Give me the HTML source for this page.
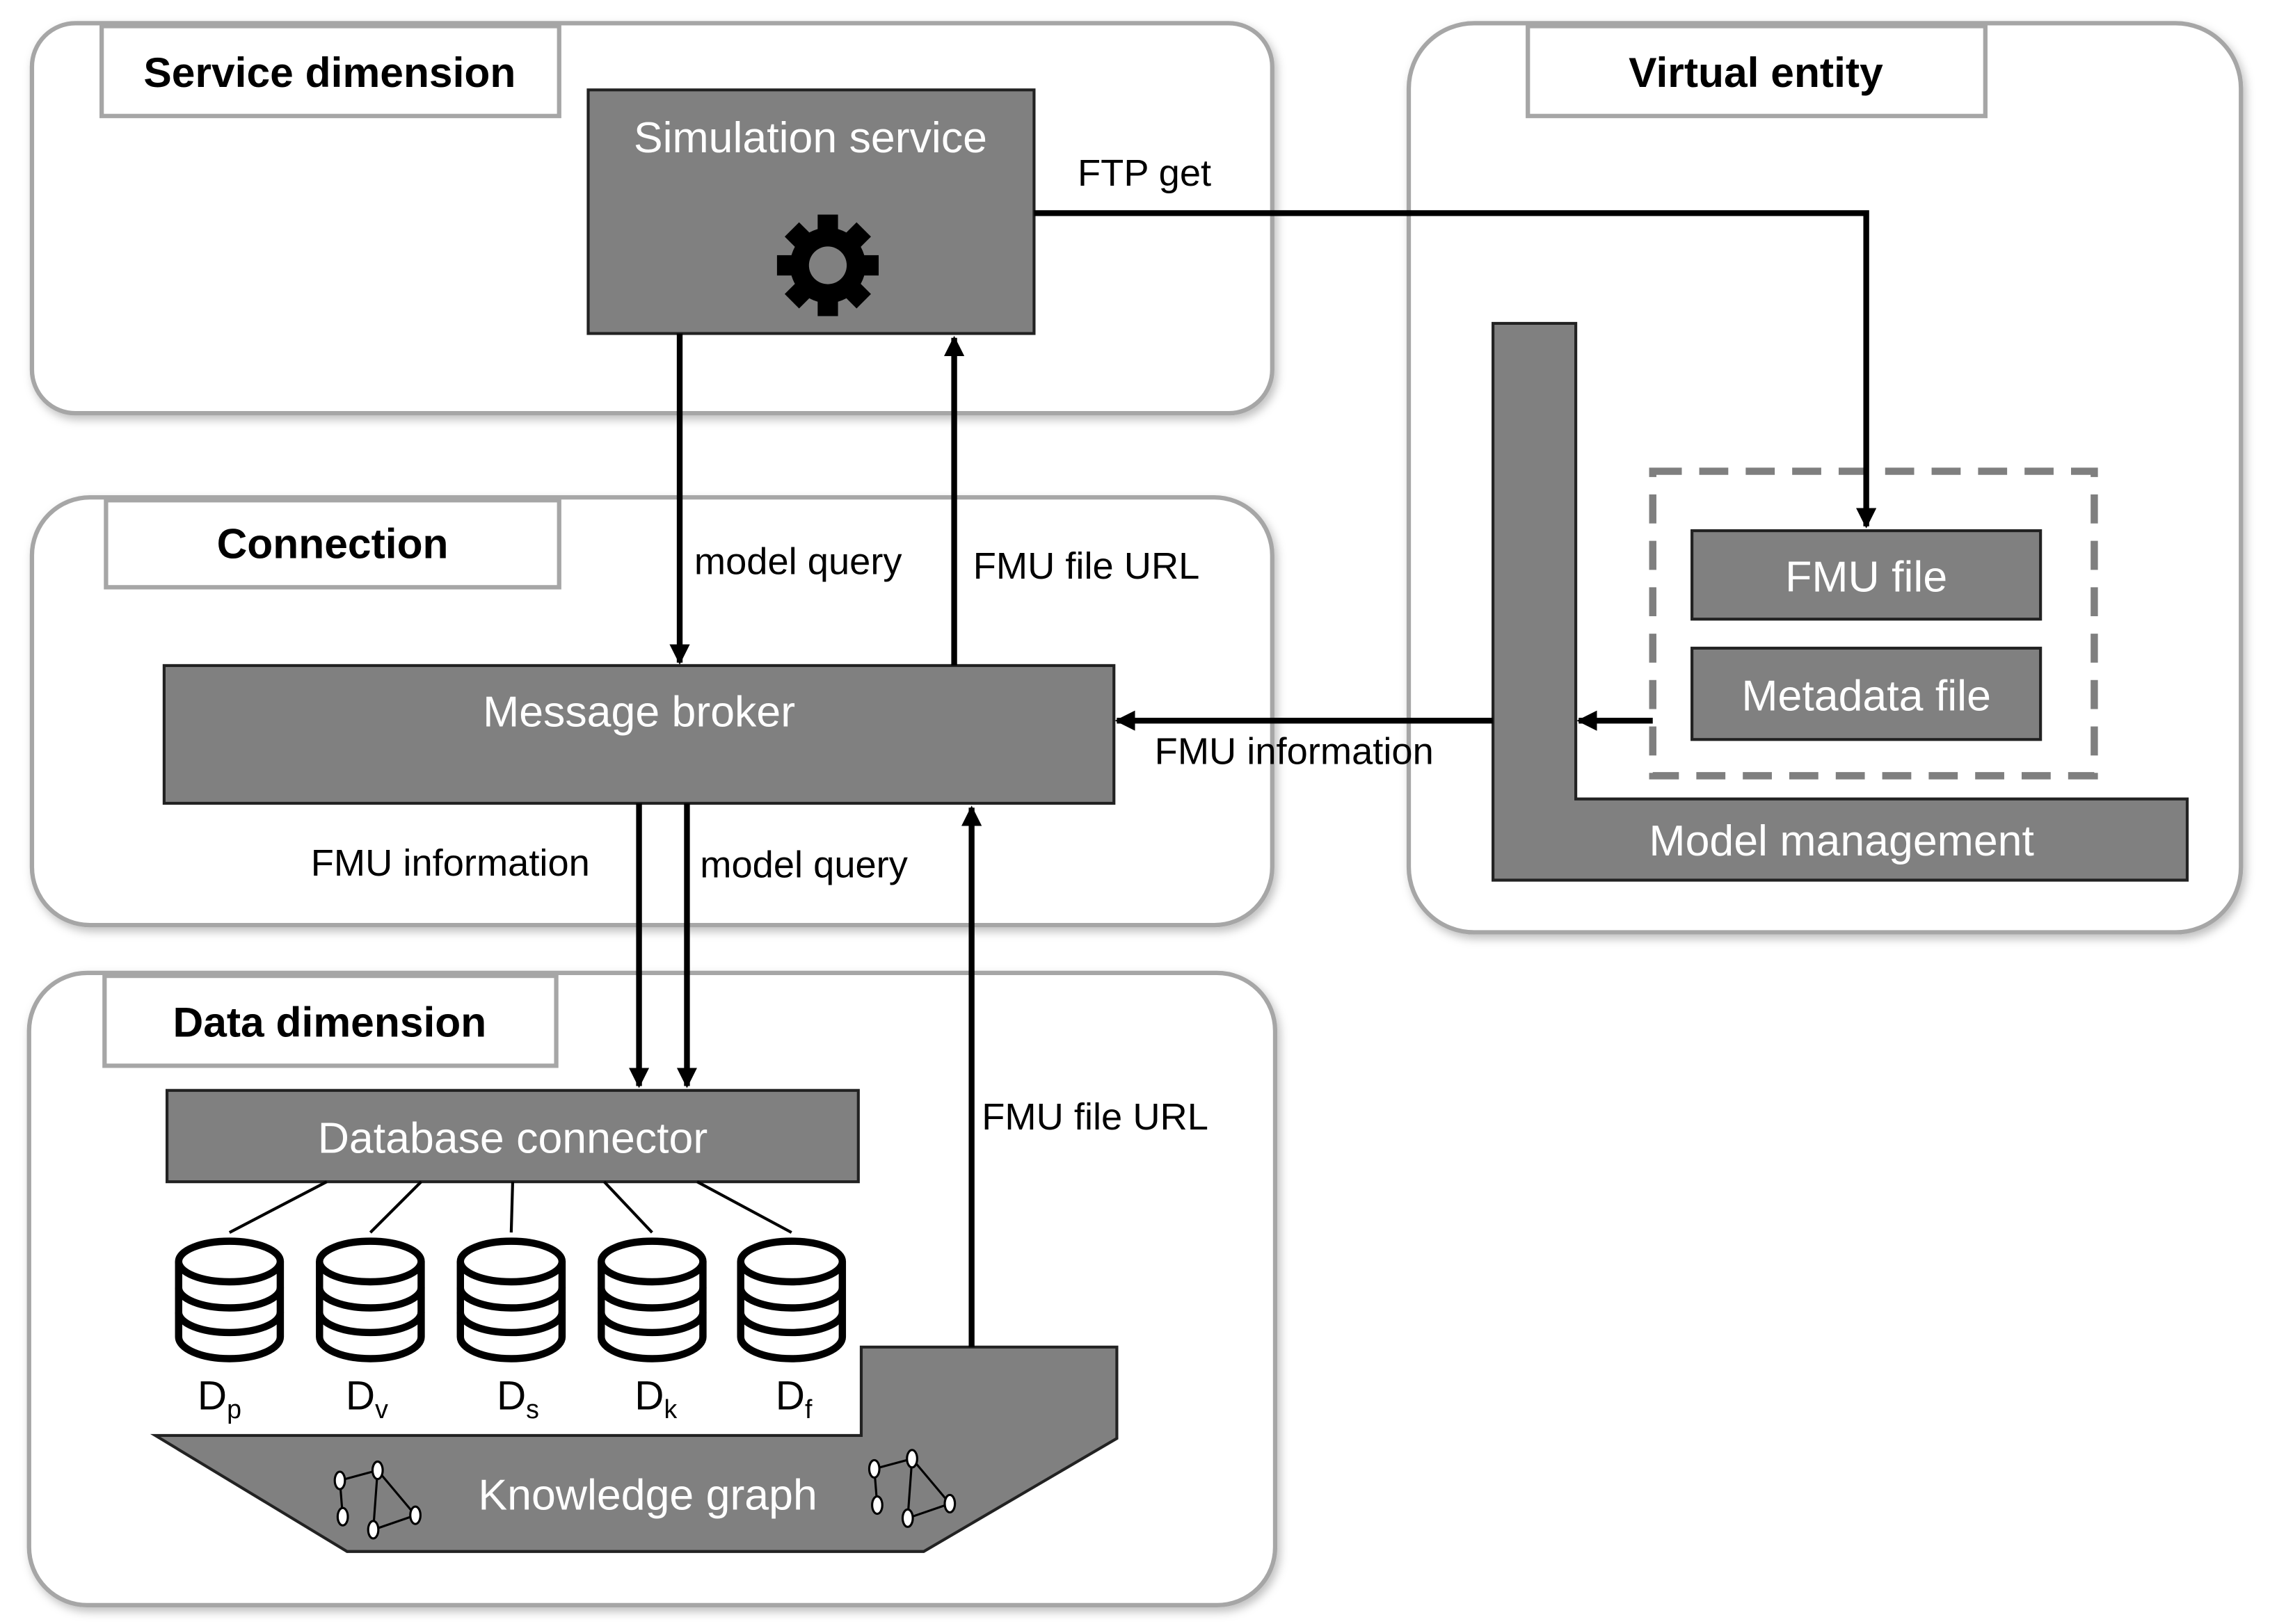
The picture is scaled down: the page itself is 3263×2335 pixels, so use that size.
<!DOCTYPE html>
<html><head><meta charset="utf-8"><style>html,body{margin:0;padding:0;background:#fff}svg{display:block}</style></head>
<body>
<svg width="3263" height="2335" viewBox="0 0 1563 1120" preserveAspectRatio="none" xmlns="http://www.w3.org/2000/svg" font-family="Liberation Sans, sans-serif">
<defs>
<marker id="ah" markerWidth="8" markerHeight="8" refX="7" refY="4" orient="auto" markerUnits="userSpaceOnUse"><path d="M0,0 L8,4 L0,8 z" fill="#000"/></marker>
<marker id="a" viewBox="0 0 10 10" markerWidth="14" markerHeight="14" refX="9" refY="5" orient="auto" markerUnits="userSpaceOnUse"><path d="M0,0 L10,5 L0,10 z" fill="#000"/></marker>
<filter id="sh" x="-5%" y="-5%" width="110%" height="110%"><feDropShadow dx="2" dy="3" stdDeviation="3" flood-color="#000" flood-opacity="0.25"/></filter>
</defs>
<g fill="#fff" stroke="#a6a6a6" stroke-width="3" filter="url(#sh)">
<rect x="22" y="16" width="854" height="269" rx="30"/>
<rect x="970" y="16" width="573" height="627" rx="45"/>
<rect x="22" y="343" width="854" height="295" rx="40"/>
<rect x="20" y="671" width="858" height="436" rx="40"/>
</g>
<g fill="#fff" stroke="#a6a6a6" stroke-width="3">
<rect x="70" y="18" width="315" height="62"/>
<rect x="1052" y="18" width="315" height="62"/>
<rect x="73" y="345" width="312" height="60"/>
<rect x="72" y="673" width="311" height="62"/>
</g>
<g font-weight="bold" font-size="29" text-anchor="middle" fill="#000">
<text x="227" y="60">Service dimension</text>
<text x="1209" y="60">Virtual entity</text>
<text x="229" y="385">Connection</text>
<text x="227" y="715">Data dimension</text>
</g>
<g fill="#808080" stroke="#222" stroke-width="2">
<rect x="405" y="62" width="307" height="168"/>
<rect x="113" y="459" width="654" height="95"/>
<rect x="115" y="752" width="476" height="63"/>
<path d="M1028,223 H1085 V551 H1506 V607 H1028 Z"/>
<rect x="1165" y="366" width="240" height="61"/>
<rect x="1165" y="447" width="240" height="63"/>
<path d="M107,990 H593 V929 H769 V992 L636,1070 H239 Z"/>
</g>
<rect x="1138" y="325" width="304" height="210" fill="none" stroke="#7f7f7f" stroke-width="5" stroke-dasharray="20 12"/>
<g fill="#fff" font-size="30" text-anchor="middle">
<text x="558" y="105">Simulation service</text>
<text x="440" y="501">Message broker</text>
<text x="353" y="795">Database connector</text>
<text x="1268" y="590">Model management</text>
<text x="1285" y="408">FMU file</text>
<text x="1285" y="490">Metadata file</text>
<text x="446" y="1041">Knowledge graph</text>
</g>
<!-- gear -->
<g transform="translate(570,183)">
<g fill="#000">
<circle r="26"/>
<rect x="-7" y="-35" width="14" height="70"/>
<rect x="-7" y="-35" width="14" height="70" transform="rotate(45)"/>
<rect x="-7" y="-35" width="14" height="70" transform="rotate(90)"/>
<rect x="-7" y="-35" width="14" height="70" transform="rotate(135)"/>
</g>
<circle r="13" fill="#808080"/>
</g>
<g stroke="#000" stroke-width="4" fill="none">
<line x1="468" y1="230" x2="468" y2="457" marker-end="url(#a)"/>
<line x1="657" y1="459" x2="657" y2="233" marker-end="url(#a)"/>
<polyline points="712,147 1285,147 1285,363" marker-end="url(#a)"/>
<line x1="1138" y1="497" x2="1087" y2="497" marker-end="url(#a)"/>
<line x1="1028" y1="497" x2="769" y2="497" marker-end="url(#a)"/>
<line x1="440" y1="554" x2="440" y2="749" marker-end="url(#a)"/>
<line x1="473" y1="554" x2="473" y2="749" marker-end="url(#a)"/>
<line x1="669" y1="929" x2="669" y2="557" marker-end="url(#a)"/>
</g>
<g font-size="26" fill="#000">
<text x="742" y="128">FTP get</text>
<text x="478" y="396">model query</text>
<text x="670" y="399">FMU file URL</text>
<text x="795" y="527">FMU information</text>
<text x="214" y="604">FMU information</text>
<text x="482" y="605">model query</text>
<text x="676" y="779">FMU file URL</text>
</g>
<g stroke="#000" stroke-width="2">
<line x1="225" y1="815" x2="158" y2="850"/>
<line x1="290" y1="815" x2="255" y2="850"/>
<line x1="353" y1="815" x2="352" y2="850"/>
<line x1="416" y1="815" x2="449" y2="850"/>
<line x1="480" y1="815" x2="545" y2="850"/>
</g>
<g id="db" stroke="#000" stroke-width="5" fill="#fff">
</g>
<g stroke="#000" stroke-width="5" fill="#fff">
<g transform="translate(158,0)"><path d="M-35,870 V922 A35,15 0 0 0 35,922 V870"/><ellipse cx="0" cy="870" rx="35" ry="14"/><path d="M-35,888 A35,14 0 0 0 35,888 M-35,905 A35,14 0 0 0 35,905" fill="none"/></g>
<g transform="translate(255,0)"><path d="M-35,870 V922 A35,15 0 0 0 35,922 V870"/><ellipse cx="0" cy="870" rx="35" ry="14"/><path d="M-35,888 A35,14 0 0 0 35,888 M-35,905 A35,14 0 0 0 35,905" fill="none"/></g>
<g transform="translate(352,0)"><path d="M-35,870 V922 A35,15 0 0 0 35,922 V870"/><ellipse cx="0" cy="870" rx="35" ry="14"/><path d="M-35,888 A35,14 0 0 0 35,888 M-35,905 A35,14 0 0 0 35,905" fill="none"/></g>
<g transform="translate(449,0)"><path d="M-35,870 V922 A35,15 0 0 0 35,922 V870"/><ellipse cx="0" cy="870" rx="35" ry="14"/><path d="M-35,888 A35,14 0 0 0 35,888 M-35,905 A35,14 0 0 0 35,905" fill="none"/></g>
<g transform="translate(545,0)"><path d="M-35,870 V922 A35,15 0 0 0 35,922 V870"/><ellipse cx="0" cy="870" rx="35" ry="14"/><path d="M-35,888 A35,14 0 0 0 35,888 M-35,905 A35,14 0 0 0 35,905" fill="none"/></g>
</g>
<g font-size="28" fill="#000">
<text x="136" y="972">D<tspan font-size="18" dy="6">p</tspan></text>
<text x="238" y="972">D<tspan font-size="18" dy="6">v</tspan></text>
<text x="342" y="972">D<tspan font-size="18" dy="6">s</tspan></text>
<text x="437" y="972">D<tspan font-size="18" dy="6">k</tspan></text>
<text x="534" y="972">D<tspan font-size="18" dy="6">f</tspan></text>
</g>
<g stroke="#000" stroke-width="1.5" fill="#fff">
<g><line x1="234" y1="1021" x2="260" y2="1014"/><line x1="234" y1="1021" x2="236" y2="1046"/><line x1="260" y1="1014" x2="257" y2="1055"/><line x1="260" y1="1014" x2="286" y2="1045"/><line x1="257" y1="1055" x2="286" y2="1045"/>
<ellipse cx="234" cy="1021" rx="3.5" ry="6"/><ellipse cx="260" cy="1014" rx="3.5" ry="6"/><ellipse cx="236" cy="1046" rx="3.5" ry="6"/><ellipse cx="257" cy="1055" rx="3.5" ry="6"/><ellipse cx="286" cy="1045" rx="3.5" ry="6"/></g>
<g transform="translate(368,-8)"><line x1="234" y1="1021" x2="260" y2="1014"/><line x1="234" y1="1021" x2="236" y2="1046"/><line x1="260" y1="1014" x2="257" y2="1055"/><line x1="260" y1="1014" x2="286" y2="1045"/><line x1="257" y1="1055" x2="286" y2="1045"/>
<ellipse cx="234" cy="1021" rx="3.5" ry="6"/><ellipse cx="260" cy="1014" rx="3.5" ry="6"/><ellipse cx="236" cy="1046" rx="3.5" ry="6"/><ellipse cx="257" cy="1055" rx="3.5" ry="6"/><ellipse cx="286" cy="1045" rx="3.5" ry="6"/></g>
</g>
</svg>
</body></html>
